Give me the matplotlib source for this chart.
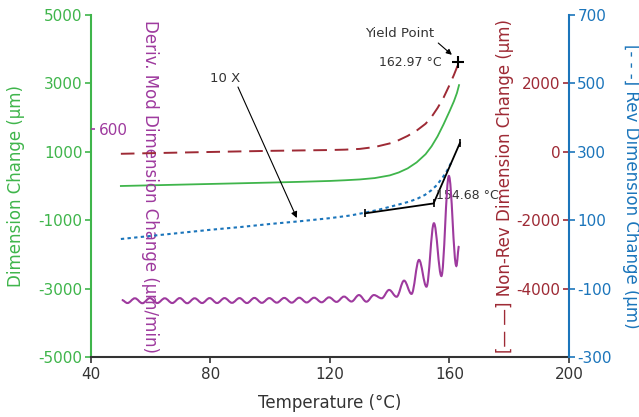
import matplotlib
matplotlib.use("Agg")
import matplotlib.pyplot as plt
from matplotlib.path import Path
from matplotlib.patches import PathPatch

plt.rcParams["axes.unicode_minus"] = False

# kolory serii
GREEN = "#3fb54b"
RED = "#9e2a35"
BLUE = "#1b75bb"
PURPLE = "#9e3a9e"
DARK = "#333333"

# --- dane ---
# calkowita zmiana wymiaru (os zielona)
total_temp = [50, 60, 70, 80, 90, 100, 110, 120, 125, 130, 135, 140, 143, 146, 149, 152,
              154, 156, 158, 160, 161.5, 162.5, 163.2]
total_val = [0, 20, 40, 60, 80, 100, 122, 148, 168, 192, 232, 310, 395, 515, 690, 930,
             1160, 1450, 1800, 2180, 2480, 2720, 2950]

# nieodwracalna zmiana wymiaru (os czerwona)
nonrev_temp = [50, 60, 70, 80, 90, 100, 110, 120, 125, 130, 135, 140, 143, 146, 149, 152,
               154, 156, 158, 160, 161.5, 162.5, 162.97]
nonrev_val = [-58, -40, -22, -5, 12, 28, 40, 52, 63, 85, 140, 245, 340, 465, 620, 820,
              1020, 1280, 1580, 1950, 2250, 2470, 2630]

# odwracalna zmiana wymiaru (os niebieska)
rev_temp = [50, 60, 70, 80, 90, 100, 110, 120, 127, 131.7, 136, 140, 143.5, 146.8,
            149.5, 151.8, 154, 155.8, 157.8, 159.2, 160.2, 160.8]
rev_val = [45, 54, 63, 72, 80, 89, 97, 106, 114, 122, 130, 139, 147, 155,
           164, 174, 188, 203, 226, 245, 262, 272]

# pochodna (os fioletowa) - ekstrema oscylacji
deriv_temp = [50.3, 52.2, 54.7, 57.2, 59.7, 62.2, 64.7, 67.2, 69.7, 72.2, 74.7, 77.2, 79.7,
              82.2, 84.7, 87.2, 89.7, 92.2, 94.7, 97.2, 99.7, 102.2, 104.7, 107.2, 109.7,
              112.2, 114.7, 117.2, 119.7, 122.2, 124.7, 127.2, 129.7, 132.2, 134.7, 137.3,
              139.8, 142.3, 144.8, 147.3, 149.8, 152.3, 154.8, 157.3, 159.8, 162.3, 163.2]
deriv_val = [-300, -316, -291, -317, -290, -316, -291, -316, -290, -317, -291, -316, -290,
             -316, -290, -315, -290, -316, -289, -315, -290, -314, -289, -314, -288,
             -313, -288, -312, -286, -310, -282, -308, -274, -309, -274, -291,
             -247, -283, -198, -268, -89, -230, 104, -174, 353, -121, -16]

# styczne (punkt 154.68 C)
tan_temp = [131.7, 154.68, 163.5]
tan_val = [120, 149, 326]

yield_temp = 162.97
yield_val = 2630

x_ticks = [40, 80, 120, 160, 200]
green_ticks = [-5000, -3000, -1000, 1000, 3000, 5000]
red_ticks = [-4000, -2000, 0, 2000]
blue_ticks = [-300, -100, 100, 300, 500, 700]

fig = plt.figure(figsize=(6.39, 4.17), dpi=100)
ax = fig.add_axes([0.1424, 0.1439, 0.748, 0.8201])

# --- os zielona + os X ---
ax.set_xlim(40, 200)
ax.set_ylim(-5000, 5000)
ax.set_xticks(x_ticks)
ax.set_yticks(green_ticks)
ax.spines["top"].set_visible(False)
ax.spines["right"].set_visible(False)
ax.spines["left"].set_color(GREEN)
ax.spines["left"].set_linewidth(1.5)
ax.spines["bottom"].set_color(DARK)
ax.spines["bottom"].set_linewidth(1.5)
ax.tick_params(axis="y", colors=GREEN, labelsize=11, length=4, width=1.2, pad=2)
ax.tick_params(axis="x", colors=DARK, labelsize=11, length=4, width=1.2)
ax.set_xlabel("Temperature (°C)", fontsize=12, color=DARK, labelpad=8)
ax.set_ylabel("Dimension Change (µm)", fontsize=12, color=GREEN)
ax.yaxis.set_label_coords(-0.138, 0.5)
ax.plot(total_temp, total_val, color=GREEN, lw=1.3)

# --- os czerwona (etykiety po lewej stronie niebieskiej osi) ---
ax_red = ax.twinx()
ax_red.set_ylim(-6000, 4000)
ax_red.yaxis.set_ticks_position("left")
ax_red.yaxis.set_label_position("left")
ax_red.spines["left"].set_position(("axes", 1.0))
for s in ax_red.spines.values():
    s.set_visible(False)
ax_red.set_yticks(red_ticks)
ax_red.tick_params(axis="y", colors=RED, labelsize=11, length=4, width=1.2, pad=2)
ax_red.set_ylabel("[— —] Non-Rev Dimension Change (µm)", fontsize=12, color=RED)
ax_red.yaxis.set_label_coords(0.885, 0.5)
ax_red.plot(nonrev_temp, nonrev_val, color=RED, lw=1.4, dashes=(7, 4))
ax_red.plot([yield_temp], [yield_val], marker="+", color="black", ms=8, mew=1.5)
ax_red.annotate("Yield Point", xy=(160.8, 2836), xytext=(143.4, 3468),
                ha="center", va="center", fontsize=9.5, color=DARK,
                arrowprops=dict(arrowstyle="-|>", color="black", lw=0.8,
                                mutation_scale=8, relpos=(1, 0), shrinkA=1, shrinkB=0))
ax_red.text(146.8, 2602, "162.97 °C", ha="center", va="center", fontsize=9, color=DARK)

# --- os niebieska ---
ax_blue = ax.twinx()
ax_blue.set_ylim(-300, 700)
ax_blue.set_yticks(blue_ticks)
for k in ["top", "left", "bottom"]:
    ax_blue.spines[k].set_visible(False)
ax_blue.spines["right"].set_color(BLUE)
ax_blue.spines["right"].set_linewidth(1.5)
ax_blue.tick_params(axis="y", colors=BLUE, labelsize=11, length=4, width=1.2, pad=2)
ax_blue.set_ylabel("[- - -] Rev Dimension Change (µm)", fontsize=12, color=BLUE,
                   rotation=270, va="bottom")
ax_blue.yaxis.set_label_coords(1.111, 0.5)
ax_blue.plot(rev_temp, rev_val, color=BLUE, lw=1.5, dashes=(1.6, 1.6))
ax_blue.plot(tan_temp, tan_val, color="black", lw=1.3, marker="|", ms=6, mew=1.2)
ax_blue.text(155.6, 172, "154.68 °C", ha="left", va="center", fontsize=9, color=DARK)

# --- os fioletowa (tylko znacznik 600 przy lewej osi) ---
ax_purple = ax.twinx()
ax_purple.set_ylim(-600, 1200)
for s in ax_purple.spines.values():
    s.set_visible(False)
ax_purple.spines["right"].set_position(("axes", 0.0))
ax_purple.set_yticks([600])
ax_purple.tick_params(axis="y", colors=PURPLE, labelsize=11, length=3, width=1.2, pad=3)
ax.text(0.1234, 0.5, "Deriv. Mod Dimension Change (µm/min)", transform=ax.transAxes,
        rotation=270, ha="center", va="center", fontsize=12, color=PURPLE)

# gladka krzywa przez ekstrema (krzywe Beziera)
verts = [(deriv_temp[0], deriv_val[0])]
codes = [Path.MOVETO]
for i in range(len(deriv_temp) - 1):
    x0, y0 = deriv_temp[i], deriv_val[i]
    x1, y1 = deriv_temp[i + 1], deriv_val[i + 1]
    d = x1 - x0
    verts += [(x0 + 0.364 * d, y0), (x1 - 0.364 * d, y1), (x1, y1)]
    codes += [Path.CURVE4] * 3
ax_purple.add_patch(PathPatch(Path(verts, codes), fill=False, ec=PURPLE, lw=1.5))

# --- adnotacja 10 X ---
ax.text(84.8, 3129, "10 X", ha="center", va="center", fontsize=9.5, color=DARK)
ax.annotate("", xy=(108.9, -936), xytext=(89.2, 2895),
            arrowprops=dict(arrowstyle="-|>", color="black", lw=0.8,
                            mutation_scale=9, shrinkA=0, shrinkB=0))

fig.savefig("out.png", dpi=100)
